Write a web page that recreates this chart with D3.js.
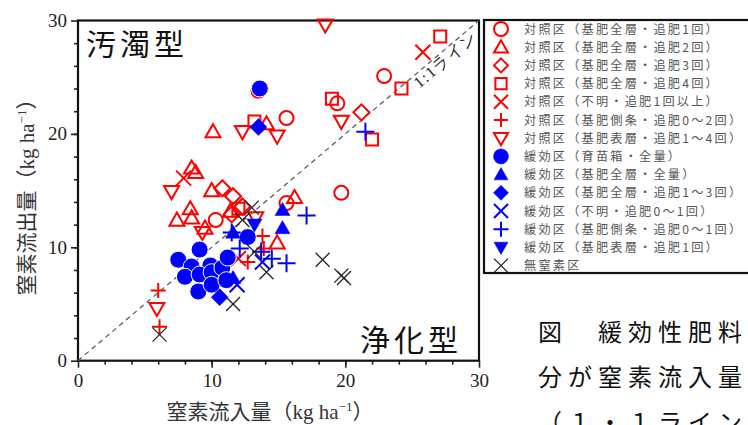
<!DOCTYPE html>
<html>
<head>
<meta charset="utf-8">
<script src="https://cdnjs.cloudflare.com/ajax/libs/d3/7.8.5/d3.min.js"></script>
<style>
  html, body { margin: 0; background: #fff; }
  svg { display: block; }
</style>
</head>
<body>
<svg width="748" height="425"></svg>
<script>
// ---- data (x: 窒素流入量, y: 窒素流出量, kg/ha) ----
var seriesNames = [
  "対照区（基肥全層・追肥1回）",
  "対照区（基肥全層・追肥2回）",
  "対照区（基肥全層・追肥3回）",
  "対照区（基肥全層・追肥4回）",
  "対照区（不明・追肥1回以上）",
  "対照区（基肥側条・追肥0～2回）",
  "対照区（基肥表層・追肥1～4回）",
  "緩効区（育苗箱・全量）",
  "緩効区（基肥全層・全量）",
  "緩効区（基肥全層・追肥1～3回）",
  "緩効区（不明・追肥0～1回）",
  "緩効区（基肥側条・追肥0～1回）",
  "緩効区（基肥表層・追肥1回）",
  "無窒素区"
];
var ctlTop1 = [[22.9,25.1],[19.4,22.7],[15.6,21.4],[19.7,14.8],[10.3,12.4],[13.5,23.8],[15.6,13.9]];
var ctlTop2 = [[10.1,20.2],[8.5,17.0],[8.8,16.6],[10.0,15.0],[8.4,13.4],[8.5,12.6],[7.4,12.4],
               [11.4,13.2],[16.2,14.4],[14.9,10.4],[14.1,20.9],[9.5,11.7]];
var ctlTop3 = [[21.2,21.9],[10.8,15.2],[11.6,14.5],[12.3,13.6],[11.5,12.9]];
var ctlTop4 = [[27.1,28.6],[24.2,24.0],[19.0,23.1],[22.0,19.5],[13.2,21.1],[12.0,13.4]];
var ctlUnknown = [[25.8,27.2],[7.9,16.1],[12.0,9.0]];
var ctlSide = [[6.0,6.2],[6.1,3.0],[13.8,11.0],[12.7,8.7],[13.9,9.9]];
var ctlSurface = [[18.5,29.6],[12.3,20.2],[14.9,19.8],[19.7,21.1],[7.0,14.9],[5.9,4.6],[9.3,11.3],[13.3,12.6]];
var slowNursery = [[13.6,24.0],[7.5,8.9],[9.1,9.8],[8.5,8.3],[9.9,8.4],[8.0,7.4],[9.1,7.6],[10.0,7.8],
                   [10.8,8.2],[9.0,6.1],[10.0,6.7],[11.1,7.1],[11.2,9.1],[12.7,10.9]];
var slowAll = [[15.3,13.3],[15.3,11.7],[11.6,11.3],[11.6,7.3]];
var slowTop = [[13.5,20.6],[10.6,5.6]];
var slowUnknown = [[13.8,8.7],[11.9,6.7]];
var slowSide = [[21.5,20.2],[17.1,12.8],[15.6,8.6],[14.5,9.0],[12.1,9.9],[11.5,11.3],[13.7,9.6]];
var slowSurface = [[13.2,12.0]];
var noN = [[6.1,2.3],[11.6,5.0],[14.1,7.8],[13.2,9.6],[18.3,8.9],[19.7,7.5],[19.9,7.3],[13.0,13.5],[12.3,12.4]];

var xTicks = [0, 10, 20, 30];
var yTicks = [0, 10, 20, 30];
var captionLines = ["図　緩効性肥料", "分が窒素流入量", "（１・１ライン"];

var RED = "#ff0000", BLUE = "#0000ff", BLACK = "#222";
var series = [
  {pts: ctlTop1, shape: "circle", color: RED, fill: false, s: 7},
  {pts: ctlTop2, shape: "tri", color: RED, fill: false, s: 7.5},
  {pts: ctlTop3, shape: "diamond", color: RED, fill: false, s: 8},
  {pts: ctlTop4, shape: "square", color: RED, fill: false, s: 7.5},
  {pts: ctlUnknown, shape: "x", color: RED, fill: false, s: 7.5},
  {pts: ctlSide, shape: "plus", color: RED, fill: false, s: 7.5},
  {pts: ctlSurface, shape: "triDown", color: RED, fill: false, s: 7.5},
  {pts: slowNursery, shape: "circle", color: BLUE, fill: true, s: 8.5},
  {pts: slowAll, shape: "tri", color: BLUE, fill: true, s: 7.5},
  {pts: slowTop, shape: "diamond", color: BLUE, fill: true, s: 8.5},
  {pts: slowUnknown, shape: "x", color: BLUE, fill: false, s: 7.5},
  {pts: slowSide, shape: "plus", color: BLUE, fill: false, s: 9},
  {pts: slowSurface, shape: "triDown", color: BLUE, fill: true, s: 7.5},
  {pts: noN, shape: "x", color: BLACK, fill: false, s: 7, w: 1.3}
];

function shapePath(t, s) {
  if (t === "circle") return "M" + s + ",0A" + s + "," + s + " 0 1,1 " + (-s) + ",0A" + s + "," + s + " 0 1,1 " + s + ",0Z";
  if (t === "tri") return "M0," + (-s) + "L" + s + "," + (s * 0.75) + "L" + (-s) + "," + (s * 0.75) + "Z";
  if (t === "triDown") return "M0," + s + "L" + s + "," + (-s * 0.75) + "L" + (-s) + "," + (-s * 0.75) + "Z";
  if (t === "diamond") return "M0," + (-s) + "L" + s + ",0L0," + s + "L" + (-s) + ",0Z";
  if (t === "square") { var h = s * 0.8; return "M" + (-h) + "," + (-h) + "H" + h + "V" + h + "H" + (-h) + "Z"; }
  if (t === "x") return "M" + (-s) + "," + (-s) + "L" + s + "," + s + "M" + s + "," + (-s) + "L" + (-s) + "," + s;
  return "M" + (-s) + ",0H" + s + "M0," + (-s) + "V" + s;
}

var svg = d3.select("svg");
var x = d3.scaleLinear().domain([0, 30]).range([78, 479]);
var y = d3.scaleLinear().domain([0, 30]).range([360.7, 20.5]);
var serif = "'Liberation Serif', 'DejaVu Serif', serif";
var jp = "'Noto Sans CJK JP', sans-serif";

// axes
var xAxis = svg.append("g").attr("transform", "translate(0," + y(0) + ")")
  .call(d3.axisBottom(x).tickValues(xTicks).tickSize(7).tickPadding(6));
var xMinor = svg.append("g").attr("transform", "translate(0," + y(0) + ")")
  .call(d3.axisBottom(x).tickValues(d3.range(2, 30, 2)).tickSize(4).tickFormat(""));
var yAxis = svg.append("g").attr("transform", "translate(" + x(0) + ",0)")
  .call(d3.axisLeft(y).tickValues(yTicks).tickSize(7).tickPadding(4));
var yMinor = svg.append("g").attr("transform", "translate(" + x(0) + ",0)")
  .call(d3.axisLeft(y).tickValues(d3.range(2, 30, 2)).tickSize(4).tickFormat(""));
[xAxis, xMinor, yAxis, yMinor].forEach(function(g) {
  g.select(".domain").remove();
  g.selectAll("line").attr("stroke", "#222").attr("stroke-width", 1.6);
  g.selectAll("text").attr("font-family", serif).attr("font-size", 19).attr("fill", "#222");
});

// frame
svg.append("rect").attr("x", x(0)).attr("y", y(30))
  .attr("width", x(30) - x(0)).attr("height", y(0) - y(30))
  .attr("fill", "none").attr("stroke", "#111").attr("stroke-width", 2.2);

// 1:1 line
svg.append("line").attr("x1", x(0)).attr("y1", y(0)).attr("x2", x(30)).attr("y2", y(30))
  .attr("stroke", "#555").attr("stroke-width", 1.2).attr("stroke-dasharray", "5,4");
var ang = Math.atan2(y(30) - y(0), x(30) - x(0)) * 180 / Math.PI;
svg.append("text")
  .attr("transform", "translate(" + (x(25.3) + 3) + "," + (y(25.3) + 15) + ") rotate(" + ang + ")")
  .attr("font-family", serif).attr("font-size", 16).attr("letter-spacing", 1.5).attr("fill", "#222")
  .text("1:1ライン");

// region labels
svg.append("text").attr("x", 86).attr("y", 55).attr("font-family", jp).attr("font-size", 30)
  .attr("letter-spacing", 4).attr("fill", "#111").text("汚濁型");
svg.append("text").attr("x", 360).attr("y", 351).attr("font-family", jp).attr("font-size", 30)
  .attr("letter-spacing", 4).attr("fill", "#111").text("浄化型");

// points
series.forEach(function(sr) {
  svg.append("g").selectAll("path").data(sr.pts).enter().append("path")
    .attr("transform", function(d) { return "translate(" + x(d[0]) + "," + y(d[1]) + ")"; })
    .attr("d", shapePath(sr.shape, sr.s))
    .attr("fill", sr.fill ? sr.color : "none")
    .attr("stroke", sr.fill ? (sr.shape === "circle" ? "#fff" : sr.color) : sr.color)
    .attr("stroke-width", sr.fill ? (sr.shape === "circle" ? 1 : 0.5) : (sr.w || 2));
});

// axis titles
function titleWithUnit(sel, label) {
  sel.append("tspan").attr("font-family", jp).text(label + "（");
  sel.append("tspan").attr("font-family", serif).text("kg ha");
  sel.append("tspan").attr("font-family", serif).attr("font-size", 13).attr("dy", -8).text("−1");
  sel.append("tspan").attr("font-family", jp).attr("dy", 8).text("）");
}
var xt = svg.append("text").attr("x", 270).attr("y", 419).attr("text-anchor", "middle")
  .attr("font-size", 21).attr("fill", "#333");
titleWithUnit(xt, "窒素流入量");
var yt = svg.append("text").attr("transform", "translate(34,192) rotate(-90)").attr("text-anchor", "middle")
  .attr("font-size", 21).attr("fill", "#333");
titleWithUnit(yt, "窒素流出量");

// legend
var lg = svg.append("g");
lg.append("rect").attr("x", 484).attr("y", 20).attr("width", 280).attr("height", 253)
  .attr("fill", "#fff").attr("stroke", "#111").attr("stroke-width", 2.2);
series.forEach(function(sr, i) {
  var cy = 29 + i * 18.2;
  var k = sr.s > 8 ? 7.5 : 7;
  lg.append("path").attr("transform", "translate(501," + cy + ")")
    .attr("d", shapePath(sr.shape, k))
    .attr("fill", sr.fill ? sr.color : "none")
    .attr("stroke", sr.color).attr("stroke-width", sr.fill ? 0.5 : (sr.w || 2));
  lg.append("text").attr("x", 524).attr("y", cy + 4.5)
    .attr("font-family", jp).attr("font-size", 12.2).attr("letter-spacing", 2.2).attr("fill", "#555")
    .text(seriesNames[i]);
});

// caption (cut by the page edge)
svg.selectAll(".cap").data(captionLines).enter().append("text")
  .attr("class", "cap").attr("x", 538).attr("y", function(d, i) { return 341 + i * 45; })
  .attr("font-family", jp).attr("font-size", 24).attr("letter-spacing", 6).attr("fill", "#111")
  .text(function(d) { return d; });
</script>
</body>
</html>
